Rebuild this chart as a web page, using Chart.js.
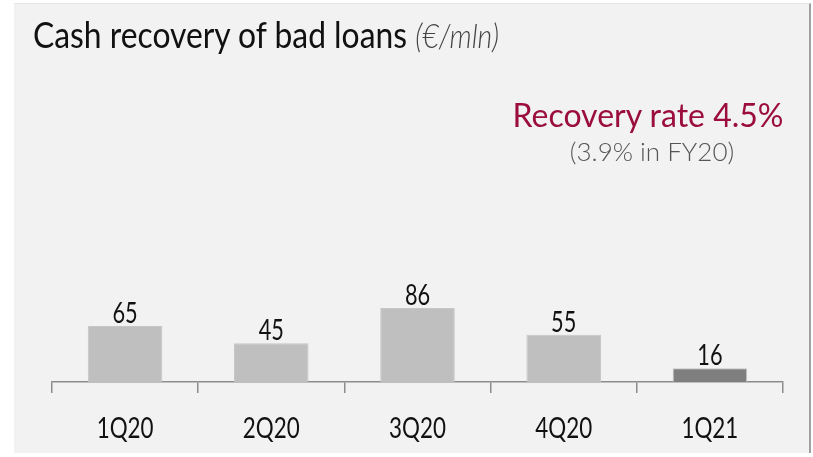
<!DOCTYPE html>
<html>
<head>
<meta charset="utf-8">
<script src="https://cdn.jsdelivr.net/npm/chart.js@4.4.1/dist/chart.umd.min.js"></script>
<style>
  html, body { margin: 0; padding: 0; background: #ffffff; }
  #wrap { position: relative; width: 813px; height: 457px; overflow: hidden; }
  #panel { position: absolute; left: 14px; top: 3px; width: 795px; height: 449px;
           background: #f2f2f2; border-right: 2px solid #a0a0a0; border-top: 1px solid #e4e4e4; }
  #chart { position: absolute; left: 0; top: 0; }
  .txt { position: absolute; font-family: Lato, sans-serif; line-height: 1; white-space: nowrap; }
  #title { left: 33px; top: 15px; font-size: 37px; font-weight: 400; color: #111;
           transform: scaleX(0.86); transform-origin: left top; }
  #title span { font-style: italic; font-weight: 300; font-size: 33px; color: #444; }
  #rate { left: 648px; top: 99px; font-size: 32px; color: #9b0d3c; transform: translateX(-50%); }
  #fy { left: 652px; top: 138px; font-size: 26px; font-weight: 300; color: #555; transform: translateX(-50%); }
</style>
</head>
<body>
<div id="wrap">
  <div id="panel"></div>
  <canvas id="chart" width="813" height="457"></canvas>
  <div class="txt" id="title">Cash recovery of bad loans <span>(€/mln)</span></div>
  <div class="txt" id="rate">Recovery rate 4.5%</div>
  <div class="txt" id="fy">(3.9% in FY20)</div>
</div>
<script>
const quarters = ['1Q20', '2Q20', '3Q20', '4Q20', '1Q21'];
const recovery = [65, 45, 86, 55, 16];
const barColors = ['#bfbfbf', '#bfbfbf', '#bfbfbf', '#bfbfbf', '#7f7f7f'];

// condensed text for value labels and quarter labels
const labelPlugin = {
  id: 'labels',
  afterDatasetsDraw(chart) {
    const ctx = chart.ctx;
    const meta = chart.getDatasetMeta(0);
    const xs = chart.scales.x;
    ctx.save();
    ctx.fillStyle = '#111';
    ctx.textAlign = 'center';
    ctx.textBaseline = 'alphabetic';
    meta.data.forEach((bar, i) => {
      ctx.save();
      ctx.translate(bar.x, bar.y - 3);
      ctx.scale(0.75, 1);
      ctx.font = '29px Lato';
      ctx.fillText(String(recovery[i]), 0, 0);
      ctx.restore();

      ctx.save();
      ctx.translate(xs.getPixelForValue(i), xs.top + 56);
      ctx.scale(0.8, 1);
      ctx.font = '28px Lato';
      ctx.fillText(quarters[i], 0, 0);
      ctx.restore();
    });
    ctx.restore();
  }
};

new Chart(document.getElementById('chart').getContext('2d'), {
  type: 'bar',
  data: {
    labels: quarters,
    datasets: [{
      data: recovery,
      backgroundColor: barColors,
      borderColor: '#c6c6c6',
      borderWidth: 1,
      barPercentage: 0.51,
      categoryPercentage: 1
    }]
  },
  options: {
    responsive: false,
    animation: false,
    layout: { padding: { left: 52, right: 30, top: 210, bottom: 64 } },
    plugins: { legend: { display: false }, tooltip: { enabled: false } },
    scales: {
      x: {
        offset: true,
        grid: { offset: true, drawOnChartArea: false, drawTicks: true, tickLength: 11,
                color: '#8c8c8c', lineWidth: 1.5 },
        border: { display: true, color: '#8c8c8c', width: 1.5 },
        ticks: { display: false }
      },
      y: {
        display: false,
        min: 0,
        max: 200
      }
    }
  },
  plugins: [labelPlugin]
});
</script>
</body>
</html>
